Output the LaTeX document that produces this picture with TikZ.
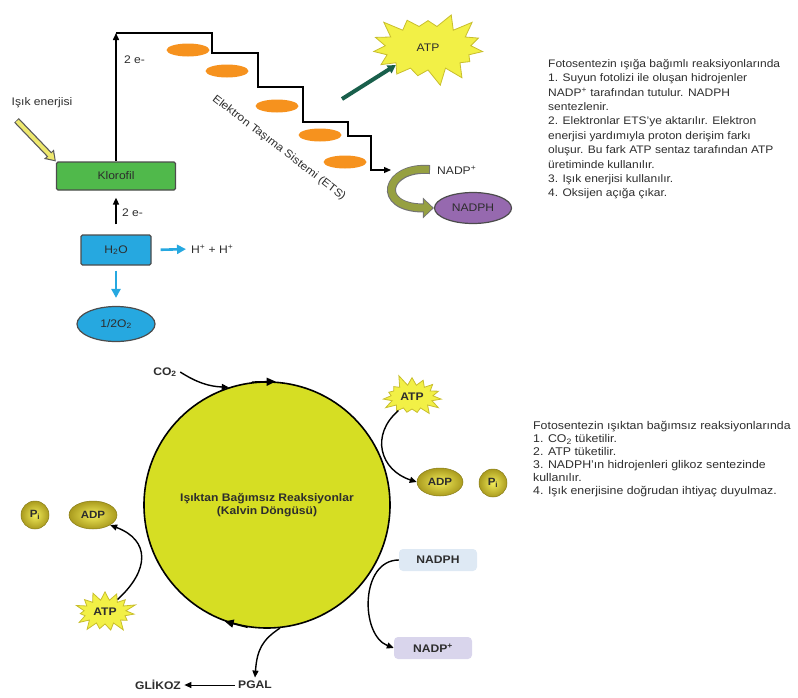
\documentclass[tikz,border=0pt]{standalone}
\usepackage{fontspec}
\setmainfont{Liberation Sans}[FakeStretch=1.1]
\usetikzlibrary{arrows.meta, positioning, shapes.geometric, shapes.symbols}

\definecolor{etsorange}{RGB}{246,146,30}
\definecolor{klorgreen}{RGB}{80,185,75}
\definecolor{watercyan}{RGB}{38,168,224}
\definecolor{nadphpurple}{RGB}{150,105,175}
\definecolor{atpteal}{RGB}{25,95,75}
\definecolor{curveolive}{RGB}{150,160,65}
\definecolor{staryellow}{RGB}{242,240,70}
\definecolor{starrim}{RGB}{200,190,45}
\definecolor{lightyellow}{RGB}{238,232,110}
\definecolor{cyclelime}{RGB}{214,222,35}
\definecolor{adpinner}{RGB}{242,236,90}
\definecolor{adpouter}{RGB}{170,155,30}
\definecolor{nadphblue}{RGB}{222,233,244}
\definecolor{nadplilac}{RGB}{217,213,236}
\definecolor{labelgray}{RGB}{45,45,45}

\begin{document}
\begin{tikzpicture}[
    x=1pt, y=-1pt,
    every node/.style={text=labelgray},
    lbl/.style={font=\fontsize{11}{13}\selectfont},
    blbl/.style={font=\bfseries\fontsize{11}{13}\selectfont},
    para/.style={align=left, inner sep=0pt, anchor=north west},
    colbox/.style={draw=black!70, line width=1.2pt, rounded corners=1.5pt,
        inner sep=0pt, lbl},
    blob/.style={ellipse, draw=black!70, line width=1.2pt, inner sep=0pt, lbl},
    carrier/.style={ellipse, fill=etsorange, minimum width=43pt,
        minimum height=13pt, inner sep=0pt},
    burst/.style={starburst, random starburst=#1, starburst points=15,
        fill=staryellow, draw=starrim, line width=0.8pt, inner sep=0pt},
    ball/.style={ellipse, inner color=adpinner, outer color=adpouter,
        draw=adpouter!80!black, line width=0.5pt, inner sep=0pt,
        font=\bfseries\fontsize{10.5}{12}\selectfont},
    tag/.style={rounded corners=4pt, minimum width=78pt, minimum height=22pt,
        inner sep=0pt, blbl},
    eflow/.style={-{Triangle[length=7pt,width=6pt]}, line width=1.5pt},
    wflow/.style={-{Triangle[length=9pt,width=9pt]}, line width=2.6pt, watercyan},
    cflow/.style={-{Triangle[length=7pt,width=6pt]}, line width=1.4pt}
]
\useasboundingbox (0,0) rectangle (798,697);

% Light dependent reactions
\node[colbox, fill=klorgreen, minimum width=119pt, minimum height=28pt]
    (klorofil) at (116,176) {Klorofil};
\node[colbox, fill=watercyan, minimum width=70pt, minimum height=30pt]
    (water) at (116,250) {H\textsubscript{2}O};
\node[blob, fill=watercyan, minimum width=78pt, minimum height=35pt]
    (oxygen) at (116,324) {1/2O\textsubscript{2}};
\node[lbl, anchor=west, inner sep=1pt] (protons) at (190,249)
    {H\textsuperscript{+} + H\textsuperscript{+}};
\node[lbl] (light) at (42,103) {Işık enerjisi};
\coordinate (stairtop) at (116,33);
\coordinate (etsend) at (391,170);

\foreach \cx/\cy [count=\i] in {188/50, 227/71, 277/106, 320/135, 345/162}
    \node[carrier] (carrier\i) at (\cx,\cy) {};
\node[lbl, rotate=-37.5] (ets) at (279,148) {Elektron Taşıma Sistemi (ETS)};

\node[burst=3, minimum width=120pt, minimum height=78pt,
    starburst point height=17pt, lbl] (atp) at (428,48) {ATP};
\coordinate (atpfrom) at (342,99);
\node[lbl, anchor=west, inner sep=1pt] (nadp) at (436,170) {NADP\textsuperscript{+}};
\node[blob, fill=nadphpurple, minimum width=77pt, minimum height=31pt]
    (nadph) at (473,208) {NADPH};

% Light dependent arrows
\draw[eflow] (klorofil.north) -- (stairtop)
    node[pos=0.79, right=4pt, lbl] {2 e-};
\draw[line width=1.2pt, -{Triangle[length=7pt,width=6pt]}] (stairtop) -- (212,33)
    |- (258,53) |- (303,87) |- (348,122) |- (371,136) |- (etsend);
\draw[eflow, shorten <=10pt, shorten >=7pt] (water.north) -- (klorofil.south)
    node[midway, right=2pt, lbl] {2 e-};
\draw[wflow, shorten <=9pt, shorten >=4pt] (water.east) -- (protons.west);
\draw[wflow, shorten <=5pt, shorten >=8pt] (water.south) -- (oxygen.north);
\draw[line width=6.5pt, black!65, -{Triangle[length=10pt,width=13pt]},
    shorten <=12pt] (light.south west) -- (klorofil.north west);
\draw[line width=4pt, lightyellow, -{Triangle[length=7pt,width=8.6pt]},
    shorten <=12.8pt, shorten >=1.8pt] (light.south west) -- (klorofil.north west);
\draw[line width=4pt, atpteal, -{Triangle[length=8pt,width=9pt]}]
    (atpfrom) -- (atp.208);
\draw[line width=9pt, black!55, -{Triangle[length=11pt,width=20pt]},
    shorten <=6pt] (nadp.west) .. controls (385,166) and (375,208) .. (nadph.west);
\draw[line width=7pt, curveolive, -{Triangle[length=8.6pt,width=16pt]},
    shorten <=7pt, shorten >=1.4pt] (nadp.west) .. controls (385,166) and (375,208) .. (nadph.west);

% Notes
\node[para, font=\fontsize{10.9}{14.4}\selectfont] (notelight) at (548,59) {%
Fotosentezin ışığa bağımlı reaksiyonlarında\\
1. Suyun fotolizi ile oluşan hidrojenler\\
NADP\textsuperscript{+} tarafından tutulur. NADPH\\
sentezlenir.\\
2. Elektronlar ETS'ye aktarılır. Elektron\\
enerjisi yardımıyla proton derişim farkı\\
oluşur. Bu fark ATP sentaz tarafından ATP\\
üretiminde kullanılır.\\
3. Işık enerjisi kullanılır.\\
4. Oksijen açığa çıkar.};
\node[para, font=\fontsize{11.2}{13}\selectfont] (notedark) at (533,421) {%
Fotosentezin ışıktan bağımsız reaksiyonlarında\\
1. CO\textsubscript{2} tüketilir.\\
2. ATP tüketilir.\\
3. NADPH'ın hidrojenleri glikoz sentezinde\\
kullanılır.\\
4. Işık enerjisine doğrudan ihtiyaç duyulmaz.};

% Calvin cycle
\node[circle, draw=black, line width=1.6pt, fill=cyclelime, minimum size=246pt,
    align=center, blbl] (cycle) at (267,505)
    {Işıktan Bağımsız Reaksiyonlar\\(Kalvin Döngüsü)};
\node[blbl] (co2) at (165,372) {CO\textsubscript{2}};
\node[burst=5, minimum width=66pt, minimum height=48pt,
    starburst point height=12pt, blbl] (atpright) at (412,397) {ATP};
\node[ball, minimum width=46pt, minimum height=28pt] (adpright) at (440,482) {ADP};
\node[ball, circle, minimum size=28pt] (piright) at (493,483) {P\textsubscript{i}};
\node[ball, circle, minimum size=28pt] (pileft) at (35,515) {P\textsubscript{i}};
\node[ball, minimum width=48pt, minimum height=28pt] (adpleft) at (93,515) {ADP};
\node[burst=8, minimum width=66pt, minimum height=48pt,
    starburst point height=12pt, blbl] (atpleft) at (105,612) {ATP};
\node[tag, fill=nadphblue] (nadphtag) at (438,560) {NADPH};
\node[tag, fill=nadplilac] (nadptag) at (433,648) {NADP\textsuperscript{+}};
\node[blbl] (pgal) at (255,685) {PGAL};
\node[blbl] (glikoz) at (158,685) {GLİKOZ};

% Calvin cycle arrows
\draw[-{Triangle[length=9pt,width=8pt]}, line width=1.6pt] (cycle.97) -- (cycle.86);
\draw[-{Triangle[length=9pt,width=8pt]}, line width=1.6pt] (cycle.261) -- (cycle.250);
\draw[cflow] (co2.east) to[bend right=15] (cycle.108);
\draw[cflow] (atpright.south west) .. controls (370,435) and (380,470) .. (adpright.west);
\draw[cflow] (atpleft.north east) .. controls (150,570) and (150,540) .. (adpleft.south east);
\draw[cflow] (nadphtag.west) .. controls (360,560) and (360,635) .. (nadptag.west);
\draw[cflow] (cycle.276) .. controls (262,640) and (257,650) .. (pgal.north);
\draw[-{Triangle[length=7pt,width=6pt]}, line width=1pt] (pgal.west) -- (glikoz.east);

\end{tikzpicture}
\end{document}
